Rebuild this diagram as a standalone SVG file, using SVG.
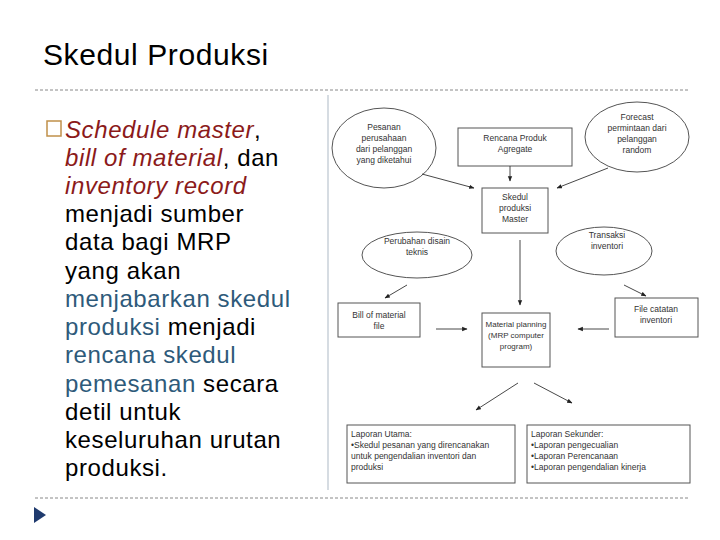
<svg xmlns="http://www.w3.org/2000/svg" width="720" height="540" viewBox="0 0 720 540">
<style>
.t{font-family:"Liberation Sans",Arial,sans-serif}
.b{font-size:24px;letter-spacing:0.6px}
.r{fill:#8b1a1a;font-style:italic}
.bl{fill:#2e5a7a}
.s{font-size:8.5px;fill:#333}
.n{fill:#fff;stroke:#555;stroke-width:1}
.c line{stroke:#333;stroke-width:0.9;marker-end:url(#a)}
</style>
<defs><marker id="a" viewBox="0 0 10 10" refX="9" refY="5" markerWidth="6" markerHeight="6" orient="auto"><path d="M0,1 L10,5 L0,9z" fill="#222"/></marker></defs>
<rect width="720" height="540" fill="#fff"/>
<text class="t" x="43" y="65" font-size="30" letter-spacing="0.6">Skedul Produksi</text>
<line x1="35" y1="90" x2="688" y2="90" stroke="#888" stroke-dasharray="3,2"/>
<line x1="35" y1="498" x2="688" y2="498" stroke="#888" stroke-dasharray="3,2"/>
<path d="M34,507 L46,515 L34,523z" fill="#1f3a6e"/>
<rect x="47" y="121" width="14" height="15" fill="none" stroke="#c0904a" stroke-width="1.5"/>
<g class="t b">
<text x="65" y="138"><tspan class="r">Schedule master</tspan>,</text>
<text x="65" y="166"><tspan class="r">bill of material</tspan>, dan</text>
<text x="65" y="194" class="r">inventory record</text>
<text x="65" y="222">menjadi sumber</text>
<text x="65" y="250">data bagi MRP</text>
<text x="65" y="279">yang akan</text>
<text x="65" y="307" class="bl">menjabarkan skedul</text>
<text x="65" y="335"><tspan class="bl">produksi</tspan> menjadi</text>
<text x="65" y="363" class="bl">rencana skedul</text>
<text x="65" y="392"><tspan class="bl">pemesanan</tspan> secara</text>
<text x="65" y="420">detil untuk</text>
<text x="65" y="448">keseluruhan urutan</text>
<text x="65" y="476">produksi.</text>
</g>
<line x1="328" y1="95" x2="328" y2="490" stroke="#c8d0d8" stroke-width="1.5"/>
<g class="t s" text-anchor="middle">
<g id="pesanan"><ellipse class="n" cx="384" cy="148" rx="52" ry="40"/><text x="384" y="130">Pesanan</text><text x="384" y="141">perusahaan</text><text x="384" y="152">dari pelanggan</text><text x="384" y="163">yang diketahui</text></g>
<g id="rencana"><rect class="n" x="458" y="128" width="114" height="38"/><text x="515" y="141">Rencana Produk</text><text x="515" y="152">Agregate</text></g>
<g id="forecast"><ellipse class="n" cx="637" cy="137" rx="52" ry="35"/><text x="637" y="120">Forecast</text><text x="637" y="131">permintaan dari</text><text x="637" y="142">pelanggan</text><text x="637" y="153">random</text></g>
<g id="skedul"><rect class="n" x="482" y="188" width="66" height="45"/><text x="515" y="200">Skedul</text><text x="515" y="211">produksi</text><text x="515" y="222">Master</text></g>
<g id="perubahan"><ellipse class="n" cx="417" cy="255" rx="55" ry="23"/><text x="417" y="244">Perubahan disain</text><text x="417" y="255">teknis</text></g>
<g id="transaksi"><ellipse class="n" cx="604" cy="251" rx="48" ry="24"/><text x="607" y="238">Transaksi</text><text x="607" y="249">inventori</text></g>
<g id="bom"><rect class="n" x="338" y="303" width="82" height="34"/><text x="379" y="318">Bill of material</text><text x="379" y="329">file</text></g>
<g id="mrp" font-size="8"><rect class="n" x="482" y="313" width="68" height="54"/><text x="516" y="327">Material planning</text><text x="516" y="338">(MRP computer</text><text x="516" y="349">program)</text></g>
<g id="file"><rect class="n" x="615" y="298" width="83" height="39"/><text x="656" y="312">File catatan</text><text x="656" y="323">inventori</text></g>
<g id="utama" text-anchor="start"><rect class="n" x="347" y="425" width="168" height="58"/><text x="351" y="437">Laporan Utama:</text><text x="351" y="448">•Skedul pesanan yang direncanakan</text><text x="351" y="459">untuk pengendalian inventori dan</text><text x="351" y="470">produksi</text></g>
<g id="sekunder" text-anchor="start"><rect class="n" x="527" y="425" width="163" height="58"/><text x="531" y="437">Laporan Sekunder:</text><text x="531" y="448">•Laporan pengecualian</text><text x="531" y="459">•Laporan Perencanaan</text><text x="531" y="470">•Laporan pengendalian kinerja</text></g>
</g>
<g class="c">
<line x1="510" y1="166" x2="510" y2="181"/>
<line x1="422" y1="174" x2="474" y2="188"/>
<line x1="608" y1="168" x2="557" y2="188"/>
<line x1="520" y1="240" x2="520" y2="305"/>
<line x1="407" y1="285" x2="385" y2="298"/>
<line x1="624" y1="285" x2="646" y2="296"/>
<line x1="436" y1="329" x2="467" y2="329"/>
<line x1="609" y1="329" x2="578" y2="329"/>
<line x1="518" y1="383" x2="476" y2="410"/>
<line x1="534" y1="383" x2="572" y2="403"/>
</g>
</svg>
